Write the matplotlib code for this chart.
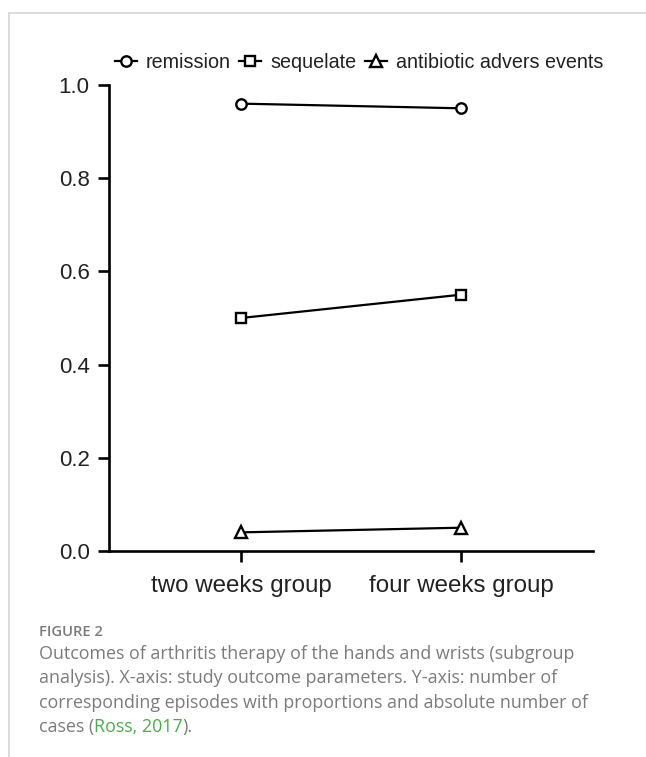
"""
Arthritis therapy outcomes of hands and wrists, two vs four weeks group.
"""

import matplotlib
matplotlib.use("Agg")
import matplotlib.pyplot as plt
from matplotlib.lines import Line2D

groups = ["two weeks group", "four weeks group"]
remission = [0.96, 0.95]
sequelate = [0.50, 0.55]
adverse_events = [0.04, 0.05]
series_labels = ["remission", "sequelate", "antibiotic advers events"]
yticks = [0.0, 0.2, 0.4, 0.6, 0.8, 1.0]

caption_title = "FIGURE 2"
caption_lines = [
    "Outcomes of arthritis therapy of the hands and wrists (subgroup",
    "analysis). X-axis: study outcome parameters. Y-axis: number of",
    "corresponding episodes with proportions and absolute number of",
]
caption_last = ["cases (", "Ross, 2017", ")."]

W, H = 646, 757
AXFONT = "Liberation Sans"
GRAY = "#7b7b7b"
GREEN = "#45b04a"
CAPSIZE = 12.9

fig = plt.figure(figsize=(W / 100, H / 100), dpi=100)

# page frame
fig.add_artist(Line2D([9 / W, 1], [1 - 13 / H, 1 - 13 / H], color="#d6d6d6", lw=1.2))
fig.add_artist(Line2D([9 / W, 9 / W], [0, 1 - 13 / H], color="#d6d6d6", lw=1.2))

ax = fig.add_axes([109 / W, 1 - 551 / H, (593 - 109) / W, (551 - 85) / H])
x = list(range(len(groups)))
style = dict(color="black", lw=1.6, markersize=7.5, markeredgewidth=1.7,
             markerfacecolor="white", clip_on=False)
ax.plot(x, remission, marker="o", label=series_labels[0], **style)
ax.plot(x, sequelate, marker="s", label=series_labels[1],
        **{**style, "markersize": 7})
ax.plot(x, adverse_events, marker="^", label=series_labels[2],
        **{**style, "markersize": 8.5})

ax.set_xlim(-0.6, 1.6)
ax.set_ylim(0, 1)
ax.set_yticks(yticks)
ax.set_yticklabels([f"{v:.1f}" for v in yticks], fontfamily=AXFONT, fontsize=16)
ax.set_xticks(x)
ax.set_xticklabels(groups, fontfamily=AXFONT, fontsize=17.4)
for side in ["top", "right"]:
    ax.spines[side].set_visible(False)
for side in ["left", "bottom"]:
    ax.spines[side].set_linewidth(1.9)
ax.tick_params(axis="both", length=8, width=1.9, colors="black",
               labelcolor="#222222")
ax.tick_params(axis="y", pad=6)
ax.tick_params(axis="x", pad=9)

leg = fig.legend(
    loc="center",
    bbox_to_anchor=(359 / W, 1 - 62 / H),
    ncol=3,
    frameon=False,
    handlelength=1.1,
    handletextpad=0.45,
    columnspacing=0.45,
    prop={"family": AXFONT, "size": 14.2},
)
for t in leg.get_texts():
    t.set_color("#222222")

# caption
fig.text(39 / W, 1 - 632 / H, caption_title, fontfamily="Open Sans",
         fontweight="semibold", fontsize=10.6, color=GRAY, va="center")
line_y = [654, 678, 703]
for yy, line in zip(line_y, caption_lines):
    fig.text(39 / W, 1 - yy / H, line, fontfamily="Open Sans", fontsize=CAPSIZE,
             color=GRAY, va="center")

renderer = fig.canvas.get_renderer()
xpos = 39
for part, col in zip(caption_last, [GRAY, GREEN, GRAY]):
    t = fig.text(xpos / W, 1 - 727 / H, part, fontfamily="Open Sans",
                 fontsize=CAPSIZE, color=col, va="center")
    xpos += t.get_window_extent(renderer).width

fig.savefig("out.png", dpi=100)
